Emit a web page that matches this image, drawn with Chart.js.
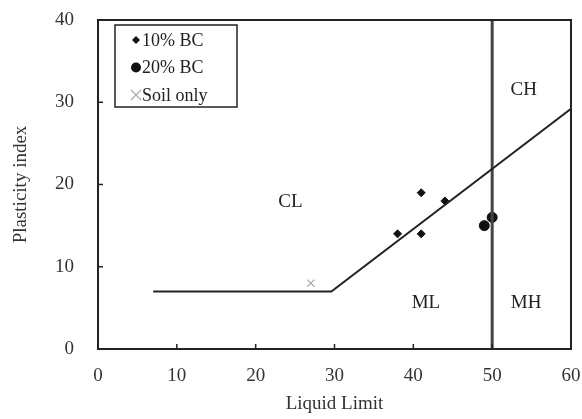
<!DOCTYPE html>
<html>
<head>
<meta charset="utf-8">
<script src="https://cdn.jsdelivr.net/npm/chart.js@4/dist/chart.umd.min.js"></script>
<style>
  html, body { margin: 0; padding: 0; background: #fff; }
  #wrap { width: 582px; height: 419px; }
</style>
</head>
<body>
<div id="wrap"><canvas id="plasticity"></canvas></div>
<script>
// data
var bc10LL = [38, 41, 41, 44];
var bc10PI = [14, 19, 14, 18];
var bc20LL = [49, 50];
var bc20PI = [15, 16];
var soilLL = [27];
var soilPI = [8];
// A-line and LL = 50 boundary
var aLineLL = [7, 29.6, 60];
var aLinePI = [7, 7, 29.2];
var boundLL = [50, 50];
var boundPI = [0, 40];
var xTicks = [0, 10, 20, 30, 40, 50, 60];
var yTicks = [0, 10, 20, 30, 40];
var zoneNames = ['CL', 'CH', 'ML', 'MH'];
var zoneAt = [[24.4, 17.9], [54, 31.5], [41.6, 5.6], [54.3, 5.6]];
var legendNames = ['10% BC', '20% BC', 'Soil only'];

var serif = '"Liberation Serif", "DejaVu Serif", serif';

function pts(xs, ys) {
  var out = [];
  for (var i = 0; i < xs.length; i++) out.push({x: xs[i], y: ys[i]});
  return out;
}

// frame, inner ticks, zone labels and the boxed legend
var extras = {
  id: 'extras',
  afterDraw: function(chart) {
    var ctx = chart.ctx, a = chart.chartArea;
    var xs = chart.scales.x, ys = chart.scales.y;
    ctx.save();
    ctx.strokeStyle = '#222';
    ctx.lineWidth = 2;
    ctx.strokeRect(a.left, a.top, a.right - a.left, a.bottom - a.top);
    ctx.lineWidth = 1.5;
    for (var i = 1; i < xTicks.length - 1; i++) {
      var px = xs.getPixelForValue(xTicks[i]);
      ctx.beginPath(); ctx.moveTo(px, a.bottom); ctx.lineTo(px, a.bottom - 5); ctx.stroke();
    }
    for (var j = 1; j < yTicks.length - 1; j++) {
      var py = ys.getPixelForValue(yTicks[j]);
      ctx.beginPath(); ctx.moveTo(a.left, py); ctx.lineTo(a.left + 5, py); ctx.stroke();
    }
    ctx.fillStyle = '#222';
    ctx.font = '19px ' + serif;
    ctx.textAlign = 'center';
    ctx.textBaseline = 'middle';
    for (var k = 0; k < zoneNames.length; k++) {
      ctx.fillText(zoneNames[k], xs.getPixelForValue(zoneAt[k][0]), ys.getPixelForValue(zoneAt[k][1]));
    }
    // legend box
    var lx = a.left + 17, ly = a.top + 5, lw = 122, lh = 82;
    ctx.fillStyle = '#fff';
    ctx.fillRect(lx, ly, lw, lh);
    ctx.lineWidth = 1.5;
    ctx.strokeRect(lx, ly, lw, lh);
    ctx.textAlign = 'left';
    ctx.font = '18px ' + serif;
    for (var m = 0; m < legendNames.length; m++) {
      var cy = ly + 15 + m * 27.5, cx = lx + 21;
      ctx.fillStyle = '#111';
      ctx.strokeStyle = '#111';
      if (m === 0) {
        ctx.beginPath();
        ctx.moveTo(cx, cy - 4); ctx.lineTo(cx + 4, cy); ctx.lineTo(cx, cy + 4); ctx.lineTo(cx - 4, cy);
        ctx.closePath(); ctx.fill();
      } else if (m === 1) {
        ctx.beginPath(); ctx.arc(cx, cy, 5, 0, Math.PI * 2); ctx.fill();
      } else {
        ctx.strokeStyle = '#aaa'; ctx.lineWidth = 1.2;
        ctx.beginPath();
        ctx.moveTo(cx - 5, cy - 5); ctx.lineTo(cx + 5, cy + 5);
        ctx.moveTo(cx + 5, cy - 5); ctx.lineTo(cx - 5, cy + 5);
        ctx.stroke();
      }
      ctx.fillStyle = '#222';
      ctx.fillText(legendNames[m], cx + 6, cy + 1);
    }
    ctx.restore();
  }
};

new Chart(document.getElementById('plasticity'), {
  type: 'scatter',
  data: {
    datasets: [
      { label: 'A-line', type: 'line', data: pts(aLineLL, aLinePI), borderColor: '#222', borderWidth: 2,
        pointRadius: 0, fill: false, tension: 0 },
      { label: 'LL=50', type: 'line', data: pts(boundLL, boundPI), borderColor: '#444', borderWidth: 3,
        pointRadius: 0, fill: false },
      { label: legendNames[0], data: pts(bc10LL, bc10PI), pointStyle: 'rectRot', pointRadius: 4,
        backgroundColor: '#111', borderColor: '#111' },
      { label: legendNames[1], data: pts(bc20LL, bc20PI), pointStyle: 'circle', pointRadius: 5,
        backgroundColor: '#111', borderColor: '#111' },
      { label: legendNames[2], data: pts(soilLL, soilPI), pointStyle: 'crossRot', pointRadius: 5,
        borderColor: '#aaa', borderWidth: 1.2 }
    ]
  },
  options: {
    responsive: true,
    maintainAspectRatio: false,
    animation: false,
    layout: { padding: { top: 20, right: 11, left: 0, bottom: 0 } },
    plugins: { legend: { display: false }, tooltip: { enabled: false } },
    scales: {
      x: {
        type: 'linear', min: 0, max: 60,
        afterBuildTicks: function(s) { s.ticks = xTicks.map(function(v) { return {value: v}; }); },
        afterFit: function(s) { s.height = 70; s.paddingLeft = 0; s.paddingRight = 0; },
        grid: { display: false },
        border: { display: false },
        ticks: { color: '#333', font: { family: serif, size: 19 }, padding: 8 },
        title: { display: true, text: 'Liquid Limit', color: '#333', font: { family: serif, size: 19 }, padding: { top: 0 } }
      },
      y: {
        type: 'linear', min: 0, max: 40,
        afterBuildTicks: function(s) { s.ticks = yTicks.map(function(v) { return {value: v}; }); },
        afterFit: function(s) { s.width = 98; s.paddingTop = 0; s.paddingBottom = 0; },
        grid: { display: false },
        border: { display: false },
        ticks: { color: '#333', font: { family: serif, size: 19 }, padding: 16 },
        title: { display: true, text: 'Plasticity index', color: '#333', font: { family: serif, size: 19 }, padding: { top: 10 } }
      }
    }
  },
  plugins: [extras]
});
</script>
</body>
</html>
